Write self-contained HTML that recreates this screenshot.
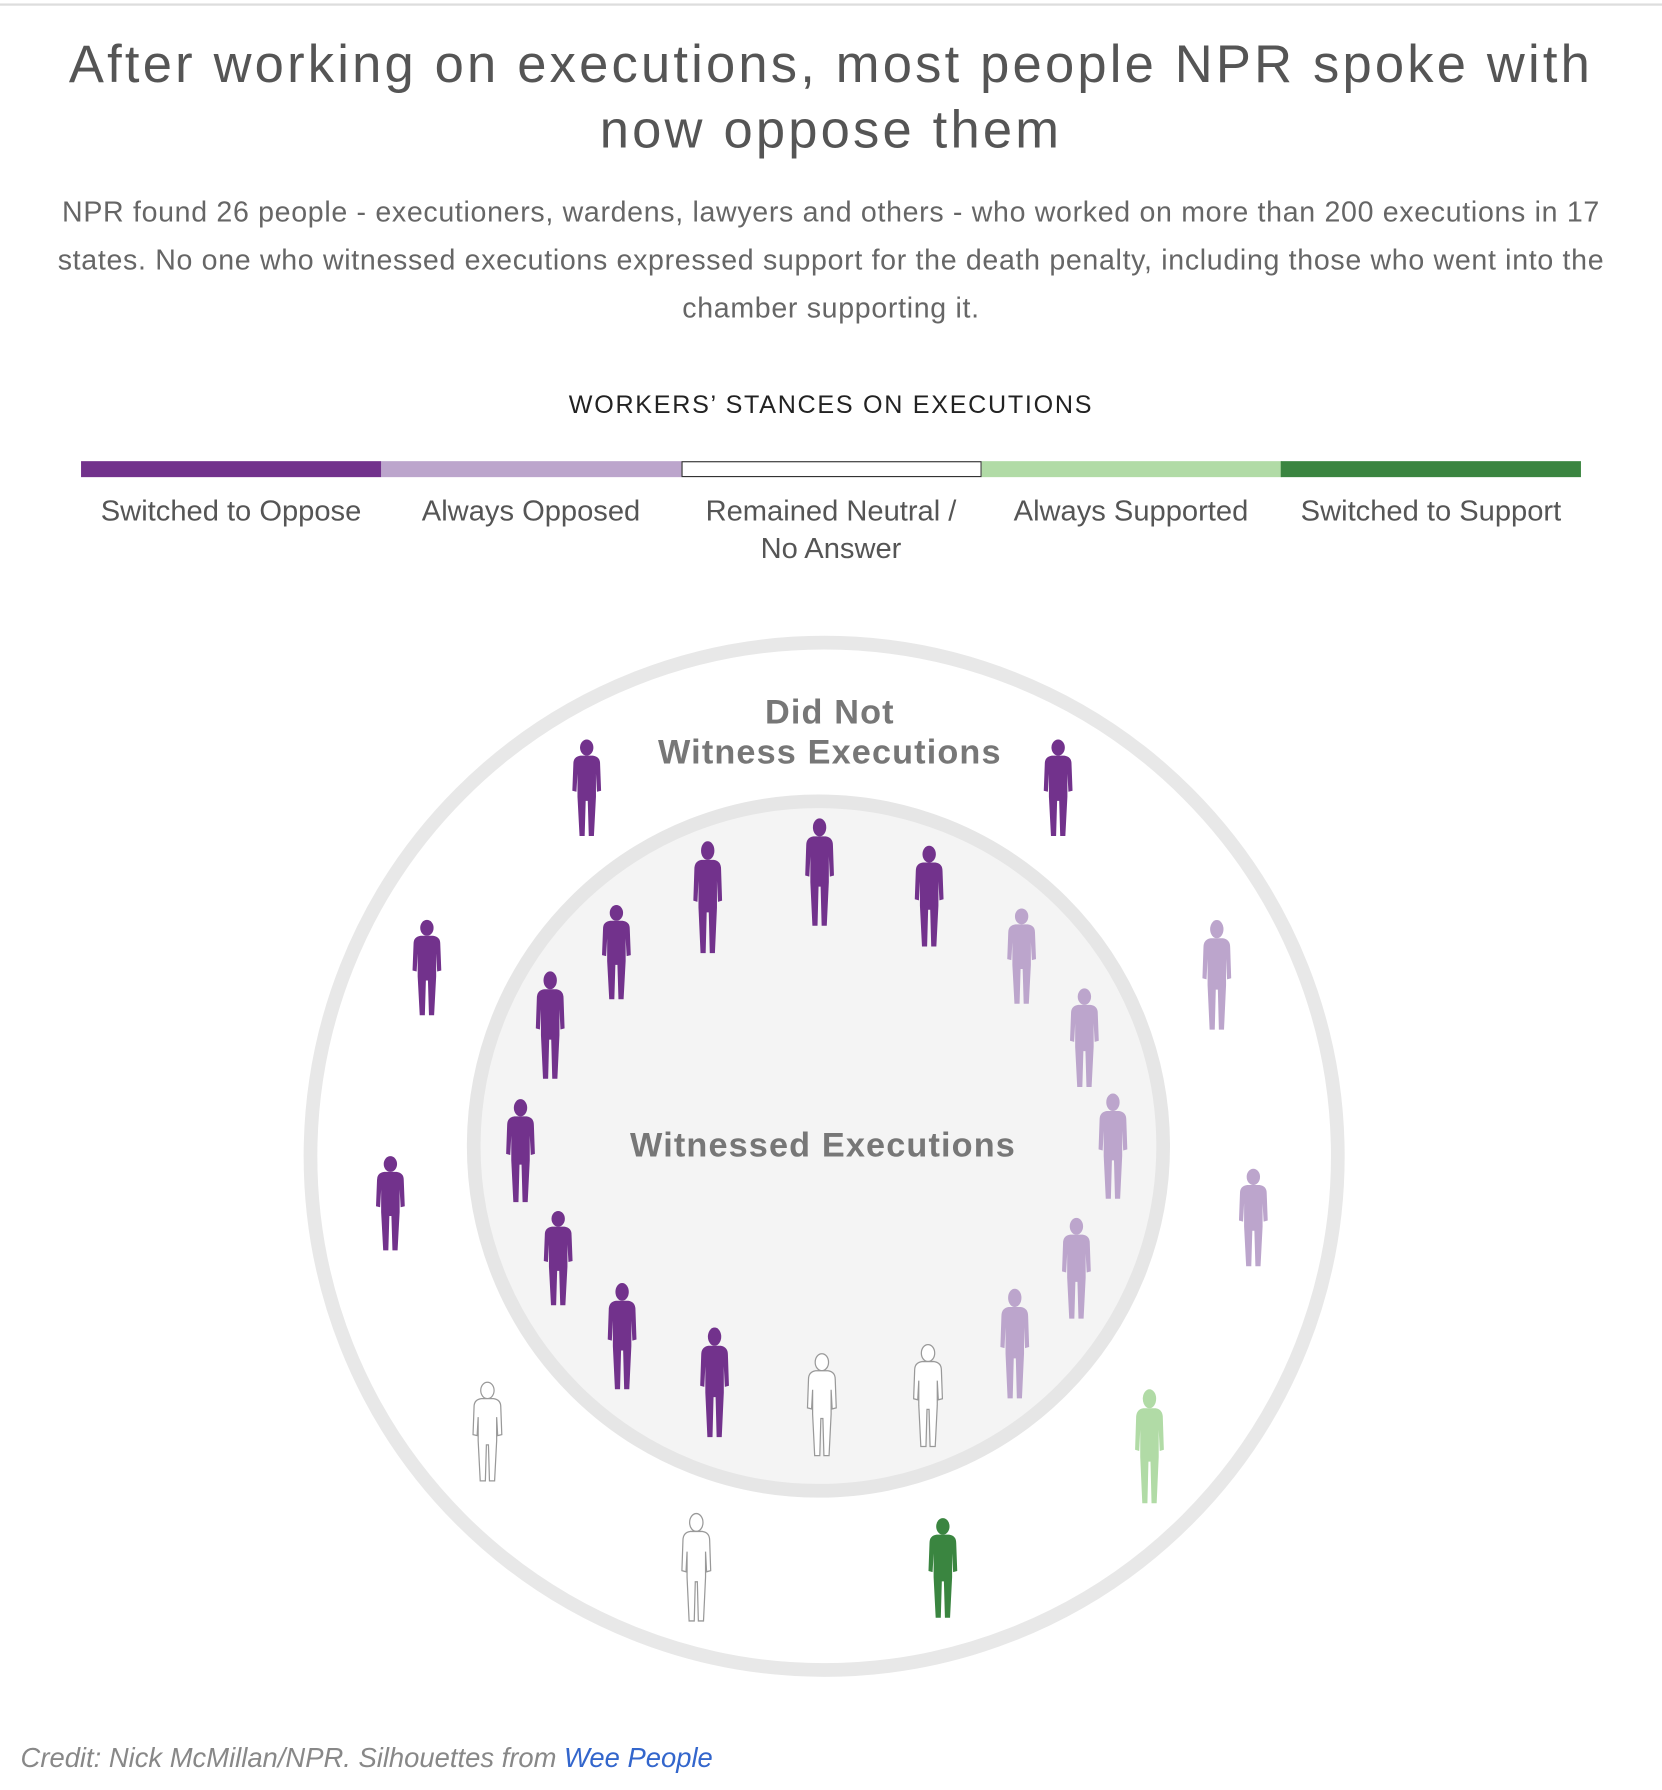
<!DOCTYPE html>
<html><head><meta charset="utf-8"><style>
html,body{margin:0;padding:0;background:#fff;}
body{width:1662px;height:1790px;overflow:hidden;}
#w{position:absolute;left:0;top:0;width:1456px;height:1568px;transform:scale(1.14148);transform-origin:0 0;font-family:"Liberation Sans",sans-serif;}
.t{position:absolute;left:0;width:1456px;text-align:center;white-space:nowrap;}
</style></head><body><div id="w">
<div style="position:absolute;left:0;top:3px;width:1456px;height:2px;background:#ddd"></div>
<div class="t" style="top:28px;font-size:46px;line-height:57px;color:#555;letter-spacing:2.8px">After working on executions, most people NPR spoke with<br>now oppose them</div>
<div class="t" style="top:165px;font-size:25px;line-height:42px;color:#666;letter-spacing:0.6px">NPR found 26 people - executioners, wardens, lawyers and others - who worked on more than 200 executions in 17<br>states. No one who witnessed executions expressed support for the death penalty, including those who went into the<br>chamber supporting it.</div>
<div class="t" style="top:342px;font-size:22px;color:#222;letter-spacing:1.5px">WORKERS’ STANCES ON EXECUTIONS</div>
<div style="position:absolute;top:404px;left:71px;width:263px;height:14px;background:#72328c"></div>
<div style="position:absolute;top:404px;left:334px;width:263px;height:14px;background:#bca5cc"></div>
<div style="position:absolute;top:404px;left:597px;width:261px;height:12px;background:#fff;border:1px solid #333"></div>
<div style="position:absolute;top:404px;left:860px;width:263px;height:14px;background:#b1dba6"></div>
<div style="position:absolute;top:404px;left:1122px;width:263px;height:14px;background:#3a8540"></div>
<div style="position:absolute;top:432px;left:71px;width:1314px;font-size:25.5px;line-height:33px;color:#555;display:flex;text-align:center;white-space:nowrap">
<div style="width:263px">Switched to Oppose</div><div style="width:263px">Always Opposed</div><div style="width:263px">Remained Neutral /<br>No Answer</div><div style="width:263px">Always Supported</div><div style="width:263px">Switched to Support</div></div>
<svg style="position:absolute;left:0;top:0" width="1456" height="1568" viewBox="0 0 1456 1568">
<defs><symbol id="p" viewBox="0 0 40 100" preserveAspectRatio="none"><ellipse cx="20" cy="9" rx="6.5" ry="8"/><path d="M14,17 L26,17 Q33,18 33,25 L34,52 L30,53 L29,35 L29,58 L27,97 L22,97 L21,62 L19,62 L18,97 L13,97 L11,58 L11,35 L10,53 L6,52 L7,25 Q7,18 14,17 Z"/></symbol></defs>
<circle cx="722" cy="1013" r="450" fill="none" stroke="#e8e8e8" stroke-width="12"/>
<circle cx="717" cy="1004" r="302" fill="#f4f4f4" stroke="#e6e6e6" stroke-width="12"/>
<g font-family="Liberation Sans, sans-serif" font-weight="bold" font-size="30" fill="#777" text-anchor="middle" letter-spacing="1">
<text x="727" y="634">Did Not</text><text x="727" y="669">Witness Executions</text>
<text x="721" y="1013">Witnessed Executions</text></g>
<g id="people">
<use href="#p" x="496" y="647" width="36" height="88" fill="#72328c"/>
<use href="#p" x="909" y="647" width="36" height="88" fill="#72328c"/>
<use href="#p" x="356" y="805" width="36" height="87" fill="#72328c"/>
<use href="#p" x="1048" y="805" width="36" height="100" fill="#bca5cc"/>
<use href="#p" x="324" y="1012" width="36" height="86" fill="#72328c"/>
<use href="#p" x="1080" y="1023" width="36" height="89" fill="#bca5cc"/>
<use href="#p" x="409" y="1210" width="36" height="90" fill="#fff" stroke="#999" stroke-width="1.2"/>
<use href="#p" x="989" y="1216" width="36" height="104" fill="#b1dba6"/>
<use href="#p" x="592" y="1325" width="36" height="98" fill="#fff" stroke="#999" stroke-width="1.2"/>
<use href="#p" x="808" y="1329" width="36" height="91" fill="#3a8540"/>
<use href="#p" x="700" y="716" width="36" height="98" fill="#72328c"/>
<use href="#p" x="602" y="736" width="36" height="102" fill="#72328c"/>
<use href="#p" x="796" y="740" width="36" height="92" fill="#72328c"/>
<use href="#p" x="522" y="792" width="36" height="86" fill="#72328c"/>
<use href="#p" x="877" y="795" width="36" height="87" fill="#bca5cc"/>
<use href="#p" x="464" y="850" width="36" height="98" fill="#72328c"/>
<use href="#p" x="932" y="865" width="36" height="90" fill="#bca5cc"/>
<use href="#p" x="438" y="962" width="36" height="94" fill="#72328c"/>
<use href="#p" x="957" y="957" width="36" height="96" fill="#bca5cc"/>
<use href="#p" x="471" y="1060" width="36" height="86" fill="#72328c"/>
<use href="#p" x="925" y="1066" width="36" height="92" fill="#bca5cc"/>
<use href="#p" x="527" y="1123" width="36" height="97" fill="#72328c"/>
<use href="#p" x="871" y="1128" width="36" height="100" fill="#bca5cc"/>
<use href="#p" x="608" y="1162" width="36" height="100" fill="#72328c"/>
<use href="#p" x="702" y="1185" width="36" height="93" fill="#fff" stroke="#999" stroke-width="1.2"/>
<use href="#p" x="795" y="1177" width="36" height="93" fill="#fff" stroke="#999" stroke-width="1.2"/>
</g></svg>
<div style="position:absolute;left:18px;top:1527px;font-size:24px;font-style:italic;color:#888">Credit: Nick McMillan/NPR. Silhouettes from <span style="color:#3366cc">Wee People</span></div>
</div></body></html>
